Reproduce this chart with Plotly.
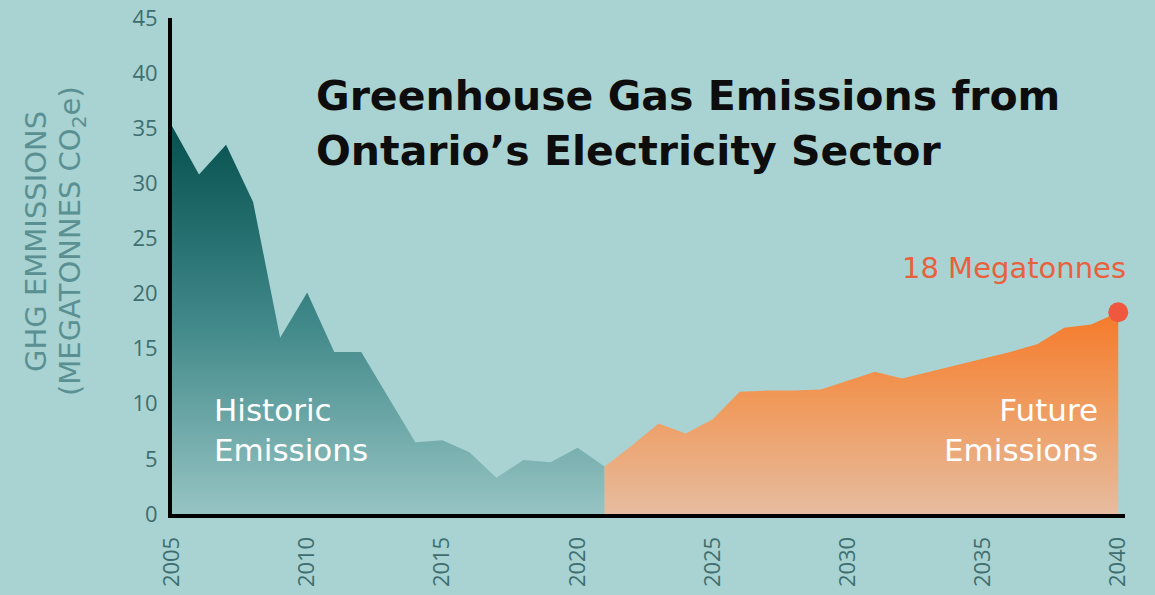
import plotly.graph_objects as go

# ---- data ----
hist_years = list(range(2005, 2022))
hist_values = [35.2, 30.8, 33.5, 28.3, 16.0, 20.1, 14.7, 14.7, 10.6, 6.5, 6.7, 5.6, 3.3, 4.9, 4.7, 6.0, 4.3]
future_years = list(range(2021, 2041))
future_values = [4.3, 6.2, 8.2, 7.3, 8.6, 11.1, 11.2, 11.2, 11.3, 12.1, 12.9, 12.3, 12.9, 13.5, 14.1, 14.7, 15.4, 16.9, 17.2, 18.3]
x_ticks = [2005, 2010, 2015, 2020, 2025, 2030, 2035, 2040]
y_ticks = [0, 5, 10, 15, 20, 25, 30, 35, 40, 45]

BG = "#a9d3d2"
FONT = "Open Sans"
WIDE = "DejaVu Sans"

W, H = 1155, 595
L, R, T, B = 172, 30, 18, 81


def px(x):
    return (x - L) / (W - L - R)


def py(y):
    return (H - B - y) / (H - T - B)


fig = go.Figure()
fig.add_trace(go.Scatter(
    x=hist_years, y=hist_values, mode="lines", line=dict(width=0),
    fill="tozeroy",
    fillgradient=dict(type="vertical", colorscale=[[0, "#96c4c3"], [0.5, "#3f8788"], [1, "#06504f"]]),
    hoverinfo="skip", showlegend=False,
))
fig.add_trace(go.Scatter(
    x=future_years, y=future_values, mode="lines", line=dict(width=0),
    fill="tozeroy",
    fillgradient=dict(type="vertical", colorscale=[[0, "#e6bc9f"], [0.55, "#f09a5c"], [1, "#f57a2a"]]),
    hoverinfo="skip", showlegend=False,
))
fig.add_trace(go.Scatter(
    x=[future_years[-1]], y=[future_values[-1]], mode="markers",
    marker=dict(size=20, color="#ef573e"), cliponaxis=False,
    hoverinfo="skip", showlegend=False,
))

fig.update_layout(
    width=W, height=H,
    margin=dict(l=L, r=R, t=T, b=B),
    paper_bgcolor=BG, plot_bgcolor=BG,
    font=dict(family=FONT),
    xaxis=dict(range=[2005, 2040.25], tickvals=x_ticks, tickangle=-90, automargin=False,
               showgrid=False, zeroline=False, showline=True, linecolor="black", linewidth=4,
               ticks="", ticklabelstandoff=10,
               tickfont=dict(size=22, color="#3e6e6f", family=FONT)),
    yaxis=dict(range=[0, 45], tickvals=y_ticks, automargin=False,
               showgrid=False, zeroline=False, showline=True, linecolor="black", linewidth=4,
               ticks="", ticklabelstandoff=6,
               tickfont=dict(size=22, color="#3e6e6f", family=FONT)),
)


def label(text, x, y, anchor, size, color, angle=0, bold=False, align="left"):
    fig.add_annotation(xref="paper", yref="paper", x=px(x), y=py(y), xanchor=anchor, yanchor="middle",
                       text=f"<b>{text}</b>" if bold else text, textangle=angle, showarrow=False,
                       align=align, font=dict(size=size, color=color, family=WIDE))


label("Greenhouse Gas Emissions from", 314, 96, "left", 41, "#0d0d0d", bold=True)
label("Ontario’s Electricity Sector", 314, 151, "left", 41, "#0d0d0d", bold=True)
label("GHG EMMISSIONS", 36, 242, "center", 29, "#5a9092", angle=-90)
label("(MEGATONNES CO<sub>2</sub>e)", 72, 241, "center", 29, "#5a9092", angle=-90)
label("Historic<br>Emissions", 212, 430, "left", 31, "white", align="left")
label("Future<br>Emissions", 1100, 430, "right", 31, "white", align="right")
label("18 Megatonnes", 1128, 268, "right", 29, "#e8613f")

fig.write_html("out.html")
